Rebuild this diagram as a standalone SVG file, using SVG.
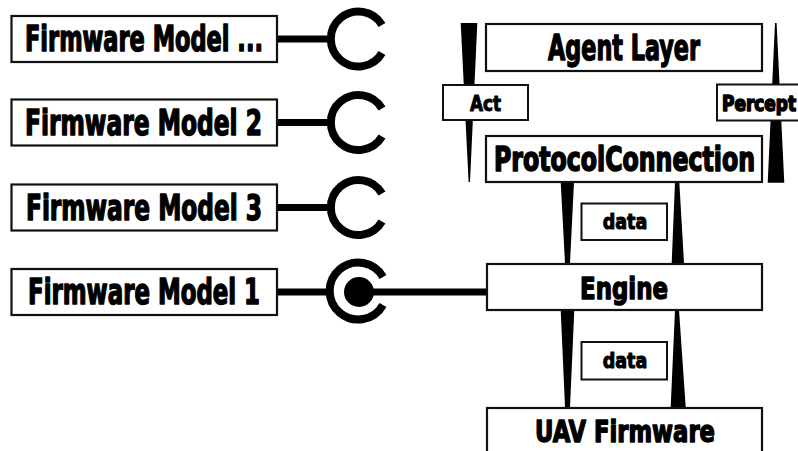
<svg xmlns="http://www.w3.org/2000/svg" width="798" height="451" viewBox="0 0 798 451">
  <style>
    .box { fill: #fff; stroke: #111; stroke-width: 2.2; }
    .lbl { fill: #fff; stroke: #111; stroke-width: 2; }
    .t { font-family: "DejaVu Sans Condensed", "DejaVu Sans", "Liberation Sans", sans-serif; font-weight: bold; fill: #000; stroke: #000; stroke-width: 1.4; stroke-linejoin: round; }
    .big { font-size: 35px; }
    .mid { font-size: 31px; }
    .small { font-size: 22px; stroke-width: 1; }
    .wire { stroke: #000; stroke-width: 7; fill: none; }
    .socket { stroke: #000; stroke-width: 8; fill: none; }
    .wedge { fill: #000; }
  </style>

  <!-- connectors: wires, sockets, tapered flow arrows -->
  <g id="connectors">
    <line class="wire" x1="277" y1="39" x2="331" y2="39"/>
    <path class="socket" d="M 382,25 A 27.5,27.5 0 1 0 382,53"/>

    <line class="wire" x1="277" y1="122.5" x2="331" y2="122.5"/>
    <path class="socket" d="M 382,108.5 A 27.5,27.5 0 1 0 382,136.5"/>

    <line class="wire" x1="277" y1="207.5" x2="331" y2="207.5"/>
    <path class="socket" d="M 382,193.5 A 27.5,27.5 0 1 0 382,221.5"/>

    <line class="wire" x1="277" y1="292" x2="331" y2="292"/>
    <path class="socket" d="M 383,277 A 28.5,28.5 0 1 0 383,305"/>
    <line class="wire" stroke-width="8" x1="359" y1="292" x2="487" y2="292"/>
    <circle cx="359" cy="292" r="15" fill="#000"/>

    <polygon class="wedge" points="460.7,23 477.3,23 470,182 468.6,182"/>
    <polygon class="wedge" points="775,23 776.6,23 784.3,182.7 767.7,182.7"/>

    <polygon class="wedge" points="560.7,182 574,182 570,263 565,263"/>
    <polygon class="wedge" points="675,182 679.3,182 684,263 671.7,263"/>

    <polygon class="wedge" points="560.7,310 574.3,310 570,407 565,407"/>
    <polygon class="wedge" points="675,310 679,310 685.7,407 670.7,407"/>
  </g>

  <!-- firmware models -->
  <g id="fw-model-more">
    <rect class="box" x="11.5" y="16" width="265.5" height="46"/>
    <text class="t big" x="25" y="51" textLength="238" lengthAdjust="spacingAndGlyphs">Firmware Model ...</text>
  </g>
  <g id="fw-model-2">
    <rect class="box" x="11.5" y="99.5" width="265.5" height="46"/>
    <text class="t big" x="25" y="134.5" textLength="237" lengthAdjust="spacingAndGlyphs">Firmware Model 2</text>
  </g>
  <g id="fw-model-3">
    <rect class="box" x="11.5" y="184.5" width="265.5" height="46"/>
    <text class="t big" x="26" y="219.5" textLength="236" lengthAdjust="spacingAndGlyphs">Firmware Model 3</text>
  </g>
  <g id="fw-model-1">
    <rect class="box" x="11.5" y="269" width="265.5" height="46"/>
    <text class="t big" x="28" y="304" textLength="232" lengthAdjust="spacingAndGlyphs">Firmware Model 1</text>
  </g>

  <!-- layer stack -->
  <g id="agent-layer">
    <rect class="box" x="486" y="24" width="276" height="47"/>
    <text class="t big" x="548" y="59.5" textLength="152" lengthAdjust="spacingAndGlyphs">Agent Layer</text>
  </g>
  <g id="protocol-connection">
    <rect class="box" x="486" y="136" width="276" height="46"/>
    <text class="t" font-size="30" stroke-width="1.5" transform="translate(494,170.5) scale(1,1.12)" x="0" y="0" textLength="261" lengthAdjust="spacingAndGlyphs">ProtocolConnection</text>
  </g>
  <g id="engine">
    <rect class="box" x="487" y="264" width="275" height="46"/>
    <text class="t mid" x="580" y="298.5" textLength="88" lengthAdjust="spacingAndGlyphs">Engine</text>
  </g>
  <g id="uav-firmware">
    <rect class="box" x="487" y="408" width="275" height="48"/>
    <text class="t mid" x="535" y="442" textLength="180" lengthAdjust="spacingAndGlyphs">UAV Firmware</text>
  </g>

  <!-- flow labels -->
  <g id="act">
    <rect class="lbl" x="443" y="85" width="85" height="35"/>
    <text class="t small" x="470" y="111" textLength="31" lengthAdjust="spacingAndGlyphs">Act</text>
  </g>
  <g id="percept">
    <rect class="lbl" x="717" y="84.5" width="88" height="36"/>
    <text class="t" font-size="19" stroke-width="1" transform="translate(722,111) scale(1,1.15)" x="0" y="0" textLength="74" lengthAdjust="spacingAndGlyphs">Percept</text>
  </g>
  <g id="data-upper">
    <rect class="lbl" x="581.5" y="203.5" width="85.5" height="36.5"/>
    <text class="t small" x="602.7" y="229.3" textLength="44.6" lengthAdjust="spacingAndGlyphs">data</text>
  </g>
  <g id="data-lower">
    <rect class="lbl" x="581.5" y="342" width="85.5" height="37.5"/>
    <text class="t small" x="602.7" y="368.3" textLength="44.6" lengthAdjust="spacingAndGlyphs">data</text>
  </g>
</svg>
